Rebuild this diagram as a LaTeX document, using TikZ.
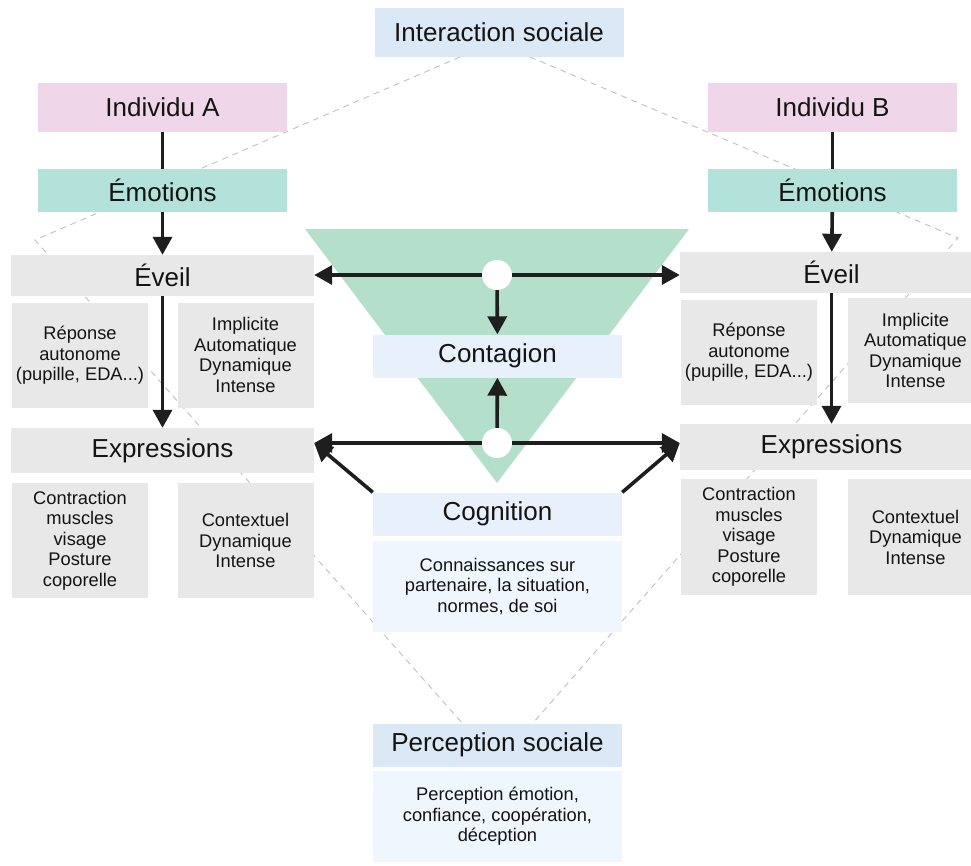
\documentclass[tikz,border=0pt]{standalone}
\usepackage{fontspec}
\setmainfont{Liberation Sans}
\usetikzlibrary{arrows.meta}

\definecolor{socblue}{RGB}{219,233,247}
\definecolor{paleblue}{RGB}{231,240,251}
\definecolor{palerblue}{RGB}{240,246,253}
\definecolor{indpink}{RGB}{239,214,232}
\definecolor{emoteal}{RGB}{178,226,218}
\definecolor{boxgray}{RGB}{232,232,232}
\definecolor{contgreen}{RGB}{180,223,202}
\definecolor{inkgray}{RGB}{30,30,30}

\tikzset{
  box/.style={inner sep=0pt, align=center, text=black!92},
  bigbox/.style={box, font=\fontsize{26}{29}\selectfont},
  smallbox/.style={box, font=\fontsize{18.3}{20.5}\selectfont},
  head/.style={bigbox, minimum width=249pt, minimum height=43pt},
  band/.style={bigbox, fill=boxgray, minimum width=303pt, minimum height=41pt},
  cell/.style={smallbox, fill=boxgray, minimum width=136pt},
  note/.style={smallbox, fill=palerblue, minimum width=249pt, minimum height=91pt},
  hub/.style={circle, fill=white, minimum size=30pt, inner sep=0pt},
  flow/.style={line width=3.6pt, draw=inkgray},
  outline/.style={dash pattern=on 6pt off 5pt, line width=0.9pt, draw=black!25},
}

\begin{document}
\begin{tikzpicture}[x=1pt,y=-1pt,>={Triangle[length=18pt,width=19pt]}]
 \useasboundingbox (0,0) rectangle (971,865);
 \clip (0,0) rectangle (971,865);

 \coordinate (olt) at (460,57);
 \coordinate (olw) at (35,240);
 \coordinate (olb) at (463,724);
 \coordinate (ort) at (530,57);
 \coordinate (ole) at (958,238);
 \coordinate (orb) at (532,724);
 \draw[outline] (olt) -- (olw) -- (olb);
 \draw[outline] (ort) -- (ole) -- (orb);

 \fill[contgreen] (305,229) -- (689,229) -- (497,483) -- cycle;

 \node[head,fill=socblue,minimum height=49pt] (interaction) at (499,32.5) {Interaction sociale};

 \node[head,fill=indpink,minimum height=49pt] (indA) at (162.5,107.5) {Individu A};
 \node[head,fill=emoteal] (emoA) at (162.5,190.5) {Émotions};
 \node[band] (eveilA) at (162.5,275.5) {Éveil};
 \node[cell,minimum height=105pt] (repA) at (80,355.5) {Réponse\\autonome\\(pupille, EDA...)};
 \node[cell,minimum height=105pt] (impA) at (245.5,355) {Implicite\\Automatique\\Dynamique\\Intense};
 \node[band,minimum height=45pt] (exprA) at (162.5,450.5) {Expressions};
 \node[cell,minimum height=115pt] (contrA) at (80,540.5) {Contraction\\muscles\\visage\\Posture\\coporelle};
 \node[cell,minimum height=115pt] (contxA) at (245.5,540.5) {Contextuel\\Dynamique\\Intense};

 \node[head,fill=indpink,minimum height=49pt] (indB) at (832.5,107.5) {Individu B};
 \node[head,fill=emoteal] (emoB) at (832.5,190.5) {Émotions};
 \node[band] (eveilB) at (831.5,272.5) {Éveil};
 \node[cell,minimum height=105pt] (repB) at (749,352.5) {Réponse\\autonome\\(pupille, EDA...)};
 \node[cell,minimum height=105pt] (impB) at (915.5,350.5) {Implicite\\Automatique\\Dynamique\\Intense};
 \node[band,minimum height=46pt] (exprB) at (831.5,447) {Expressions};
 \node[cell,minimum height=116pt] (contrB) at (749,537) {Contraction\\muscles\\visage\\Posture\\coporelle};
 \node[cell,minimum height=116pt] (contxB) at (915.5,537) {Contextuel\\Dynamique\\Intense};

 \node[head,fill=paleblue] (contagion) at (497.5,356) {Contagion};
 \node[head,fill=paleblue] (cognition) at (497.5,514) {Cognition};
 \node[note] (cogtext) at (497.5,586.5) {Connaissances sur\\partenaire, la situation,\\normes, de soi};
 \node[head,fill=socblue] (perception) at (497.5,745) {Perception sociale};
 \node[note] (perctext) at (497.5,816.5) {Perception émotion,\\confiance, coopération,\\déception};

 \node[hub] (hubE) at (497,275) {};
 \node[hub] (hubX) at (497,443) {};

 \draw[flow] (indA) -- (emoA);
 \draw[flow,->] (emoA) -- (eveilA);
 \draw[flow,->] (eveilA) -- (exprA);
 \draw[flow] (indB) -- (emoB);
 \draw[flow,->] (emoB) -- (eveilB);
 \draw[flow,->] (eveilB) -- (exprB);

 \draw[flow,->] (hubE) -- (eveilA.east |- hubE);
 \draw[flow,->] (hubE) -- (eveilB.west |- hubE);
 \draw[flow,->] (hubE) -- (contagion);
 \draw[flow,->] (hubX) -- (contagion);
 \draw[flow,->] (hubX) -- (exprA.east |- hubX);
 \draw[flow,->] (hubX) -- (exprB.west |- hubX);
 \draw[flow,->] (cognition.north west) -- (exprA.east |- hubX);
 \draw[flow,->] (cognition.north east) -- (exprB.west |- hubX);
\end{tikzpicture}
\end{document}
